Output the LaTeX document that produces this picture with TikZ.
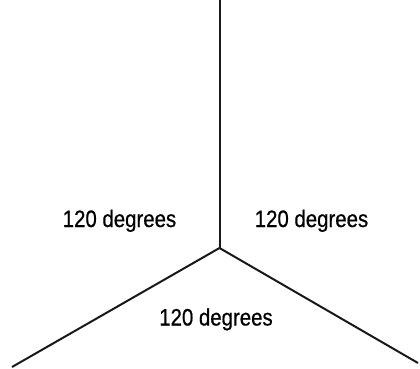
\documentclass[tikz,border=0pt]{standalone}
\usepackage{fontspec}
\newfontfamily\anglefont[FakeStretch=0.86, FakeBold=0.6]{Liberation Sans}
\tikzset{
  spoke/.style={draw=black!90, line width=1.5pt},
  anglelabel/.style={font=\anglefont\fontsize{17.8}{20}\selectfont, anchor=base, inner sep=0pt}
}
\begin{document}
\begin{tikzpicture}[x=0.75pt, y=-0.75pt]
  \useasboundingbox (0,0) rectangle (420,368);

  % hub and the three spoke ends
  \coordinate (hub)   at (219.5,248);
  \coordinate (top)   at (219.5,0);
  \coordinate (left)  at (12,367);
  \coordinate (right) at (418,363);

  \draw[spoke] (hub) -- (top);
  \draw[spoke] (hub) -- (left);
  \draw[spoke] (hub) -- (right);

  % angle labels
  \node[anglelabel] (lbl-left)   at (119.5,227) {120 degrees};
  \node[anglelabel] (lbl-right)  at (311.5,227) {120 degrees};
  \node[anglelabel] (lbl-bottom) at (216,325.5) {120 degrees};
\end{tikzpicture}
\end{document}
